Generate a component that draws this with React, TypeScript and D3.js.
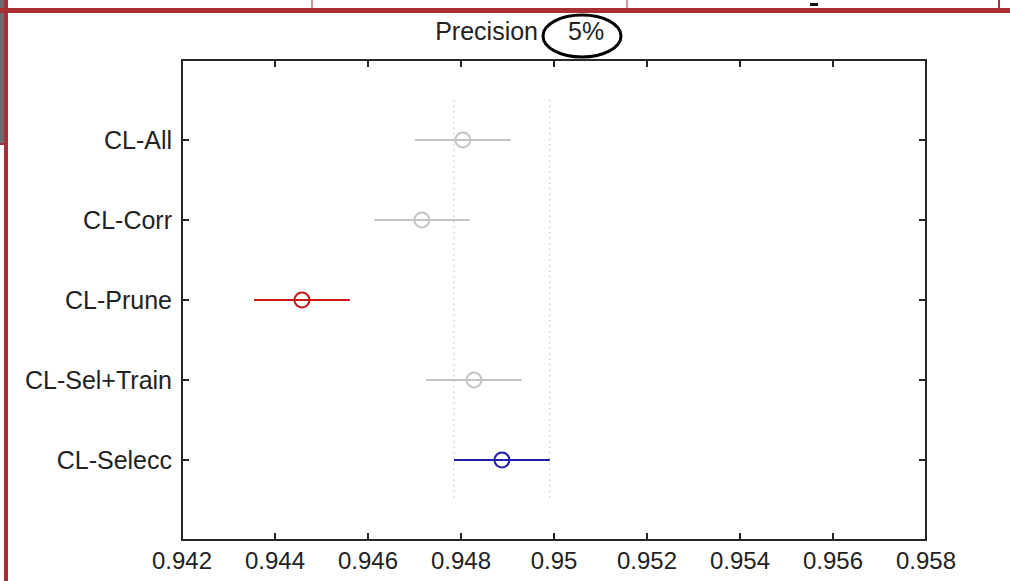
import React from "react";
import * as d3 from "d3";

const categories = ["CL-All", "CL-Corr", "CL-Prune", "CL-Sel+Train", "CL-Selecc"];
const means = [0.94804, 0.94716, 0.94458, 0.94828, 0.94888];
const lowers = [0.94701, 0.94613, 0.94355, 0.94725, 0.94785];
const uppers = [0.94907, 0.94819, 0.94561, 0.94931, 0.94991];
const groupColors = ["#c4c4c4", "#c4c4c4", "#c81818", "#c4c4c4", "#1e1eaa"];
const xTicks = [0.942, 0.944, 0.946, 0.948, 0.95, 0.952, 0.954, 0.956, 0.958];
const refIndex = 4;
const titleText = "Precision";
const titleValue = "5%";

const W = 1010;
const H = 581;
const plot = { left: 182, right: 926, top: 60, bottom: 540 };
const FONT = "'Liberation Sans', Arial, Helvetica, sans-serif";
const frameRed = "#a82f33";

export default function App() {
  const x = d3.scaleLinear().domain([0.942, 0.958]).range([plot.left, plot.right]);
  const y = d3.scaleLinear().domain([0, 6]).range([plot.top, plot.bottom]);
  const yPos = (i: number) => y(i + 1);
  const tickLen = 7;
  const fmt = (v: number) => String(+v.toFixed(3));

  return (
    <div style={{ position: "fixed", left: 0, top: 0, width: W, height: H, background: "#fff" }}>
      <svg width={W} height={H} style={{ display: "block" }}>
        <rect x={0} y={0} width={W} height={H} fill="#fff" />
        {/* outer frame pieces */}
        <rect x={0} y={0} width={4} height={144} fill="#6b6b6b" />
        <rect x={0} y={143} width={4} height={2} fill={frameRed} />
        <rect x={4} y={0} width={4} height={H} fill={frameRed} />
        <rect x={0} y={8} width={W} height={5} fill={frameRed} />
        <line x1={312} x2={312} y1={0} y2={8} stroke={frameRed} strokeWidth={1} />
        <line x1={627} x2={627} y1={0} y2={8} stroke={frameRed} strokeWidth={1} />
        <rect x={998} y={0} width={2} height={8} fill={frameRed} />
        <rect x={810} y={3} width={8} height={3} fill="#111" />

        {/* title */}
        <text x={538} y={40} textAnchor="end" fontFamily={FONT} fontSize={25} fill="#222">
          {titleText}
        </text>
        <text x={568} y={40} textAnchor="start" fontFamily={FONT} fontSize={25} fill="#222">
          {titleValue}
        </text>
        <ellipse cx={582} cy={36} rx={39} ry={21} fill="none" stroke="#000" strokeWidth={3} />

        {/* reference dotted lines */}
        {[lowers[refIndex], uppers[refIndex]].map((v, i) => (
          <line
            key={"ref" + i}
            x1={x(v)}
            x2={x(v)}
            y1={y(0.5)}
            y2={y(5.5)}
            stroke="#b8b8b8"
            strokeWidth={1}
            strokeDasharray="1.5,4"
          />
        ))}

        {/* intervals */}
        {categories.map((c, i) => (
          <g key={c}>
            <line
              x1={x(lowers[i])}
              x2={x(uppers[i])}
              y1={yPos(i)}
              y2={yPos(i)}
              stroke={groupColors[i]}
              strokeWidth={2}
            />
            <circle cx={x(means[i])} cy={yPos(i)} r={7.5} fill="none" stroke={groupColors[i]} strokeWidth={2} />
          </g>
        ))}

        {/* axes box */}
        <rect
          x={plot.left}
          y={plot.top}
          width={plot.right - plot.left}
          height={plot.bottom - plot.top}
          fill="none"
          stroke="#262626"
          strokeWidth={2}
        />
        {xTicks.map((t) => (
          <g key={"xt" + t}>
            <line x1={x(t)} x2={x(t)} y1={plot.bottom} y2={plot.bottom - tickLen} stroke="#262626" strokeWidth={2} />
            <line x1={x(t)} x2={x(t)} y1={plot.top} y2={plot.top + tickLen} stroke="#262626" strokeWidth={2} />
            <text x={x(t)} y={569} textAnchor="middle" fontFamily={FONT} fontSize={24} fill="#222">
              {fmt(t)}
            </text>
          </g>
        ))}
        {categories.map((c, i) => (
          <g key={"yt" + c}>
            <line x1={plot.left} x2={plot.left + tickLen} y1={yPos(i)} y2={yPos(i)} stroke="#262626" strokeWidth={2} />
            <line x1={plot.right} x2={plot.right - tickLen} y1={yPos(i)} y2={yPos(i)} stroke="#262626" strokeWidth={2} />
            <text
              x={172}
              y={yPos(i) + 9}
              textAnchor="end"
              fontFamily={FONT}
              fontSize={25}
              fill="#222"
            >
              {c}
            </text>
          </g>
        ))}
      </svg>
    </div>
  );
}
